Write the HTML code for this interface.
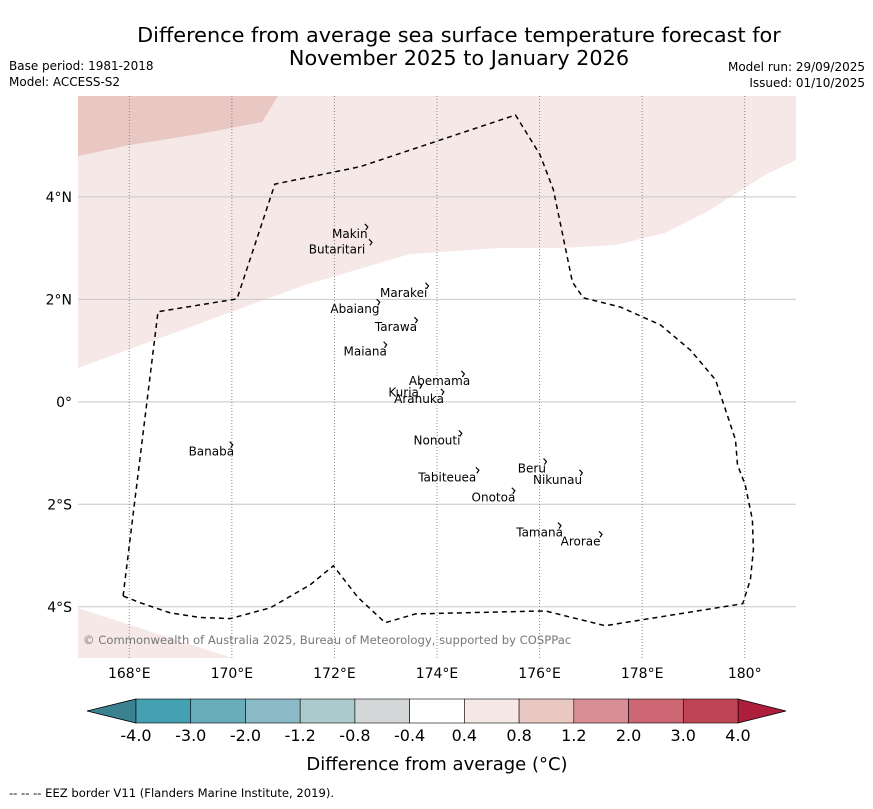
<!DOCTYPE html>
<html><head><meta charset="utf-8"><style>
body{margin:0;background:#fff;width:873px;height:804px;overflow:hidden;font-family:"Liberation Sans","DejaVu Sans",sans-serif}
svg text{font-family:"DejaVu Sans","Liberation Sans",sans-serif}
</style></head><body>
<svg id="c" width="873" height="804" xmlns="http://www.w3.org/2000/svg">
<text x="459" y="42" font-size="20.8" text-anchor="middle">Difference from average sea surface temperature forecast for</text>
<text x="459" y="65" font-size="20.8" text-anchor="middle">November 2025 to January 2026</text>
<text x="9" y="70" font-size="12">Base period: 1981-2018</text>
<text x="9" y="86" font-size="12">Model: ACCESS-S2</text>
<text x="865" y="71" font-size="12" text-anchor="end">Model run: 29/09/2025</text>
<text x="865" y="87" font-size="12" text-anchor="end">Issued: 01/10/2025</text>
<g id="map"></g>
<g id="cbar"></g>
<text x="437" y="770" font-size="18" text-anchor="middle">Difference from average (°C)</text>
<text x="9" y="797" font-size="11.6">--  --  -- EEZ border V11 (Flanders Marine Institute, 2019).</text>
</svg>
<script>
const lonTicks=[168,170,172,174,176,178,180];
const lonLabels=["168°E","170°E","172°E","174°E","176°E","178°E","180°"];
const latTicks=[4,2,0,-2,-4];
const latLabels=["4°N","2°N","0°","2°S","4°S"];
const eezLon=[167.88,168.56,170.10,170.84,172.50,175.53,176.01,176.27,176.64,176.85,177.58,178.36,178.94,179.43,179.82,179.86,180.01,180.15,180.17,180.11,179.96,177.28,176.11,173.58,172.99,172.46,171.98,171.53,170.75,169.97,169.38,168.80,168.21,167.88];
const eezLat=[-3.79,1.76,2.01,4.25,4.59,5.60,4.82,4.14,2.34,2.03,1.85,1.50,1.01,0.43,-0.74,-1.23,-1.62,-2.30,-2.89,-3.47,-3.94,-4.37,-4.08,-4.14,-4.31,-3.82,-3.20,-3.57,-4.02,-4.23,-4.21,-4.12,-3.92,-3.79];
const cbLevels=["-4.0","-3.0","-2.0","-1.2","-0.8","-0.4","0.4","0.8","1.2","2.0","3.0","4.0"];
const cbColors=["#45a1b2","#69adbb","#8abac5","#abcacd","#d3d7d8","#ffffff","#f5e8e7","#e9c7c3","#d98d96","#cd6773","#bf4454"];
const islandNames=["Makin","Butaritari","Marakei","Abaiang","Tarawa","Maiana","Abemama","Kuria","Aranuka","Nonouti","Banaba","Beru","Nikunau","Tabiteuea","Onotoa","Tamana","Arorae"];
const islandLon=[172.3,172.05,173.35,172.4,173.2,172.6,174.05,173.35,173.65,174.0,169.6,175.85,176.35,174.2,175.1,176.0,176.8];
const islandLat=[3.2,2.9,2.05,1.73,1.38,0.9,0.33,0.1,-0.02,-0.83,-1.05,-1.38,-1.6,-1.55,-1.95,-2.63,-2.8];
const x0=78,x1=796,y0=96,y1=658;
const X=lon=>x0+(lon-167)*(x1-x0)/14;
const Y=lat=>y0+(5.97-lat)*(y1-y0)/10.97;
const NS="http://www.w3.org/2000/svg";
function mk(tag,attrs,parent){const e=document.createElementNS(NS,tag);for(const k in attrs)e.setAttribute(k,attrs[k]);parent.appendChild(e);return e;}
const map=document.getElementById('map');
let e;
e=mk('rect',{x:x0,y:y0,width:x1-x0,height:y1-y0,fill:'#fff'},map);


e=mk('path',{d:'M78,368 L305,285 L410,254 L500,248 L560,248 L615,245 L665,233 L710,210 L765,175 L796,160 L796,96 L78,96 Z',fill:'#f5e8e7'},map);


e=mk('path',{d:'M78,96 L278,96 L262,122 L205,133 L130,145 L78,156 Z',fill:'#e9c7c3'},map);


e=mk('path',{d:'M78,608 L232,658 L78,658 Z',fill:'#f5e8e7'},map);


latTicks.forEach((v,i)=>{
 const g=mk('line',{x1:x0,x2:x1,y1:Y(v),y2:Y(v),stroke:'#c8c8c8','stroke-width':1},map);
 
 
 const t=mk('text',{x:x0-6,y:Y(v)+5,'font-size':14,'text-anchor':'end'},map);t.textContent=latLabels[i];
 
 
});
lonTicks.forEach((v,i)=>{
 const g=mk('line',{x1:X(v),x2:X(v),y1:y0,y2:y1,stroke:'#888','stroke-width':1,'stroke-dasharray':'1,2'},map);
 
 
 const t=mk('text',{x:X(v),y:y1+20,'font-size':14,'text-anchor':'middle'},map);t.textContent=lonLabels[i];
 
 
});
e=mk('path',{d:'M'+eezLon.map((v,i)=>X(v).toFixed(1)+','+Y(eezLat[i]).toFixed(1)).join(' L'),fill:'none',stroke:'#000','stroke-width':1.5,'stroke-dasharray':'5,4'},map);


islandNames.forEach((n,i)=>{
 const px=X(islandLon[i]),py=Y(islandLat[i]);
 const t=mk('text',{x:px,y:py,'font-size':12,'text-anchor':'middle'},map);t.textContent=n;
 
 
 const hw=n.length*3.4;
 const m=mk('path',{d:`M${px+hw-2},${py-14} l3,3 l-2,3`,fill:'none',stroke:'#000','stroke-width':1.2},map);
 
 
});
e=mk('text',{x:83,y:644,'font-size':11.6,fill:'#777'},map);e.textContent='© Commonwealth of Australia 2025, Bureau of Meteorology, supported by COSPPac';


const cb=document.getElementById('cbar');
const cbx0=136,cbx1=738,cby0=699,cby1=723,w=(cbx1-cbx0)/cbColors.length;
e=mk('path',{d:`M${cbx0},${cby0} L87,${(cby0+cby1)/2} L${cbx0},${cby1} Z`,fill:'#3b8290',stroke:'#000','stroke-width':0.8},cb);


e=mk('path',{d:`M${cbx1},${cby0} L786,${(cby0+cby1)/2} L${cbx1},${cby1} Z`,fill:'#ac1e3c',stroke:'#000','stroke-width':0.8},cb);


cbColors.forEach((c,i)=>{
 const r=mk('rect',{x:cbx0+i*w,y:cby0,width:w,height:cby1-cby0,fill:c,stroke:'#000','stroke-width':0.6},cb);
 
 
});
cbLevels.forEach((l,i)=>{
 const t=mk('text',{x:cbx0+i*w,y:741,'font-size':16,'text-anchor':'middle'},cb);t.textContent=l;
 
 
});
</script>
</body></html>
